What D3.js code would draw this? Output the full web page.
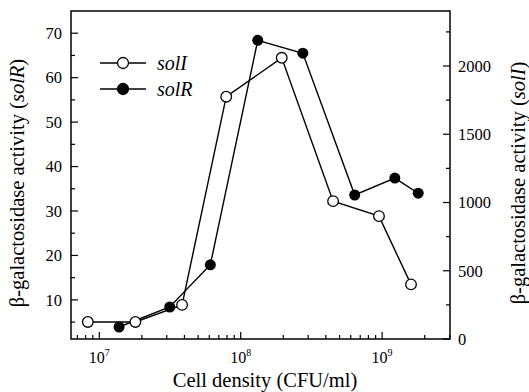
<!DOCTYPE html>
<html>
<head>
<meta charset="utf-8">
<script src="https://cdn.jsdelivr.net/npm/d3@7"></script>
<style>
  body { margin: 0; background: #fff; }
  svg { font-family: "Liberation Serif", "DejaVu Serif", serif; }
</style>
</head>
<body>
<svg id="chart" width="529" height="392"></svg>
<script>
// solI (open circles, right axis) and solR (filled circles, left axis)
const solIDensity = [8.3e6, 1.8e7, 3.85e7, 7.9e7, 1.95e8, 4.5e8, 9.5e8, 1.6e9];
const solIActivity = [125, 125, 250, 1775, 2060, 1010, 900, 400];
const solRDensity = [1.38e7, 3.15e7, 6.1e7, 1.32e8, 2.75e8, 6.4e8, 1.23e9, 1.8e9];
const solRActivity = [3.9, 8.4, 17.9, 68.4, 65.5, 33.6, 37.4, 34.0];

const leftTicks = [10, 20, 30, 40, 50, 60, 70];
const rightTicks = [0, 500, 1000, 1500, 2000];
const xMajor = [1e7, 1e8, 1e9];

const margin = { top: 11, right: 79, bottom: 53, left: 71 };
const width = 529, height = 392;

const svg = d3.select("#chart");

const x = d3.scaleLog()
  .domain([Math.pow(10, 6.8), Math.pow(10, 9.48)])
  .range([margin.left, width - margin.right]);

const yLeft = d3.scaleLinear()
  .domain([1.2, 75])
  .range([height - margin.bottom, margin.top]);

const yRight = d3.scaleLinear()
  .domain([0, 2403])
  .range([height - margin.bottom, margin.top]);

// frame
svg.append("rect")
  .attr("x", margin.left)
  .attr("y", margin.top)
  .attr("width", width - margin.left - margin.right)
  .attr("height", height - margin.top - margin.bottom)
  .attr("fill", "none")
  .attr("stroke", "#000")
  .attr("stroke-width", 1.5);

// x axis (ticks point inward)
const xMinor = [];
for (let e = 6; e <= 9; e++) {
  for (let k = 2; k <= 9; k++) {
    const v = k * Math.pow(10, e);
    if (v > x.domain()[0] && v < x.domain()[1]) xMinor.push(v);
  }
}
const xAxis = svg.append("g")
  .attr("transform", `translate(0,${height - margin.bottom})`);
xAxis.selectAll("line.minor")
  .data(xMinor)
  .join("line")
  .attr("x1", d => x(d)).attr("x2", d => x(d))
  .attr("y1", 0).attr("y2", -4)
  .attr("stroke", "#000").attr("stroke-width", 1.2);
xAxis.selectAll("line.major")
  .data(xMajor)
  .join("line")
  .attr("x1", d => x(d)).attr("x2", d => x(d))
  .attr("y1", 0).attr("y2", -7)
  .attr("stroke", "#000").attr("stroke-width", 1.2);
const xLab = xAxis.selectAll("text")
  .data(xMajor)
  .join("text")
  .attr("x", d => x(d))
  .attr("y", 24)
  .attr("text-anchor", "middle")
  .attr("font-size", 16);
xLab.append("tspan").text("10");
xLab.append("tspan")
  .attr("dy", -7)
  .attr("font-size", 10)
  .text(d => Math.round(Math.log10(d)));

// left axis
const leftAxis = svg.append("g")
  .attr("transform", `translate(${margin.left},0)`);
leftAxis.selectAll("line.major")
  .data(leftTicks)
  .join("line")
  .attr("x1", 0).attr("x2", 7)
  .attr("y1", d => yLeft(d)).attr("y2", d => yLeft(d))
  .attr("stroke", "#000").attr("stroke-width", 1.2);
leftAxis.selectAll("line.minor")
  .data(leftTicks.map(d => d - 5))
  .join("line")
  .attr("x1", 0).attr("x2", 4)
  .attr("y1", d => yLeft(d)).attr("y2", d => yLeft(d))
  .attr("stroke", "#000").attr("stroke-width", 1.2);
leftAxis.selectAll("text")
  .data(leftTicks)
  .join("text")
  .attr("x", -9)
  .attr("y", d => yLeft(d))
  .attr("dy", "0.35em")
  .attr("text-anchor", "end")
  .attr("font-size", 16.5)
  .text(d => d);

// right axis
const rightAxis = svg.append("g")
  .attr("transform", `translate(${width - margin.right},0)`);
rightAxis.selectAll("line.major")
  .data(rightTicks)
  .join("line")
  .attr("x1", 0).attr("x2", -7)
  .attr("y1", d => yRight(d)).attr("y2", d => yRight(d))
  .attr("stroke", "#000").attr("stroke-width", 1.2);
rightAxis.selectAll("line.minor")
  .data(rightTicks.map(d => d + 250))
  .join("line")
  .attr("x1", 0).attr("x2", -4)
  .attr("y1", d => yRight(d)).attr("y2", d => yRight(d))
  .attr("stroke", "#000").attr("stroke-width", 1.2);
rightAxis.selectAll("text")
  .data(rightTicks)
  .join("text")
  .attr("x", 8)
  .attr("y", d => yRight(d))
  .attr("dy", "0.35em")
  .attr("text-anchor", "start")
  .attr("font-size", 16.5)
  .text(d => d);

// axis titles
svg.append("text")
  .attr("x", 265)
  .attr("y", 387)
  .attr("text-anchor", "middle")
  .attr("font-size", 20.5)
  .text("Cell density (CFU/ml)");

function yTitle(cx, cy, gene) {
  const t = svg.append("text")
    .attr("transform", `translate(${cx},${cy}) rotate(-90)`)
    .attr("text-anchor", "middle")
    .attr("font-size", 20.5);
  t.append("tspan").text("β-galactosidase activity (");
  t.append("tspan").attr("font-style", "italic").text(gene);
  t.append("tspan").text(")");
}
yTitle(24, 183, "solR");
yTitle(525, 183, "solI");

// series
const lineR = d3.line()
  .x((d, i) => x(solRDensity[i]))
  .y(d => yLeft(d));
const lineI = d3.line()
  .x((d, i) => x(solIDensity[i]))
  .y(d => yRight(d));

svg.append("path")
  .datum(solRActivity)
  .attr("d", lineR)
  .attr("fill", "none")
  .attr("stroke", "#000")
  .attr("stroke-width", 1.4);
svg.append("path")
  .datum(solIActivity)
  .attr("d", lineI)
  .attr("fill", "none")
  .attr("stroke", "#000")
  .attr("stroke-width", 1.4);

svg.append("g").selectAll("circle")
  .data(solRActivity)
  .join("circle")
  .attr("cx", (d, i) => x(solRDensity[i]))
  .attr("cy", d => yLeft(d))
  .attr("r", 5.5)
  .attr("fill", "#000");

svg.append("g").selectAll("circle")
  .data(solIActivity)
  .join("circle")
  .attr("cx", (d, i) => x(solIDensity[i]))
  .attr("cy", d => yRight(d))
  .attr("r", 5.3)
  .attr("fill", "#fff")
  .attr("stroke", "#000")
  .attr("stroke-width", 1.3);

// legend
const legend = svg.append("g");
const legendItems = [
  { name: "solI", fill: "#fff", y: 63 },
  { name: "solR", fill: "#000", y: 89 }
];
legendItems.forEach(item => {
  legend.append("line")
    .attr("x1", 100).attr("x2", 146)
    .attr("y1", item.y).attr("y2", item.y)
    .attr("stroke", "#000").attr("stroke-width", 1.4);
  legend.append("circle")
    .attr("cx", 123).attr("cy", item.y)
    .attr("r", 5.5)
    .attr("fill", item.fill)
    .attr("stroke", "#000").attr("stroke-width", 1.3);
  legend.append("text")
    .attr("x", 157).attr("y", item.y)
    .attr("dy", "0.35em")
    .attr("font-size", 20)
    .attr("font-style", "italic")
    .text(item.name);
});
</script>
</body>
</html>
